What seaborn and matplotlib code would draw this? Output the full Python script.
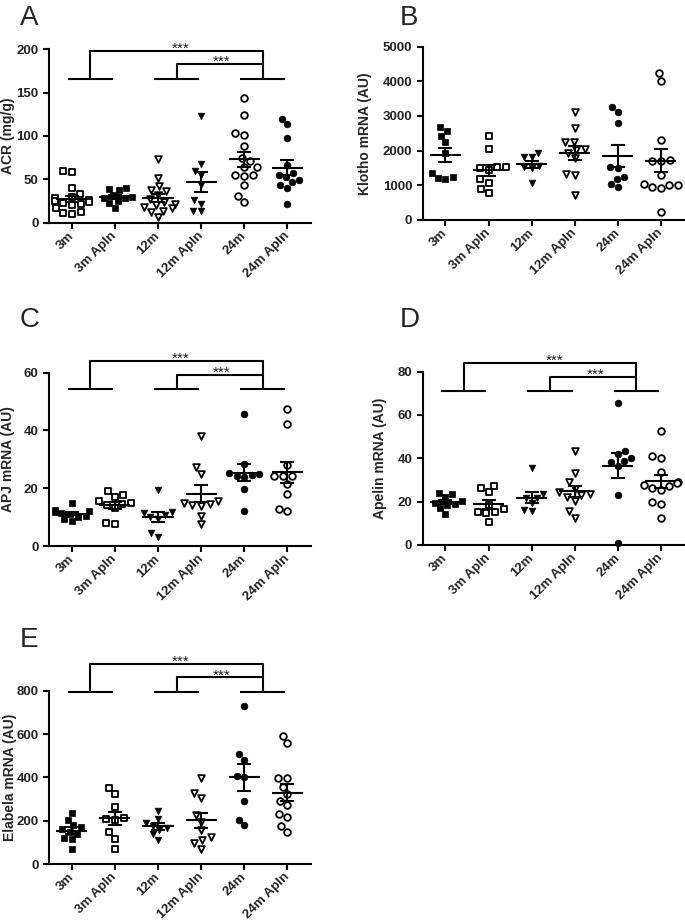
import numpy as np
import pandas as pd
import matplotlib
matplotlib.use('Agg')
import matplotlib.pyplot as plt
import seaborn as sns

groups = ['3m', '3m Apln', '12m', '12m Apln', '24m', '24m Apln']

# values, one list per group
acr = [
    [60, 58, 40, 33, 30, 28, 26, 25, 24, 23, 22, 20, 17, 12, 11, 10],
    [40, 39, 38, 32, 30, 29, 28, 25, 23, 17],
    [73, 52, 42, 38, 36, 32, 27, 24, 22, 20, 18, 17, 14, 12, 6],
    [123, 68, 60, 55, 43, 26, 22, 13, 13],
    [144, 124, 103, 101, 89, 75, 71, 64, 64, 55, 55, 54, 43, 31, 24],
    [120, 114, 98, 66, 57, 55, 53, 49, 47, 43, 40, 21],
]
klotho = [
    [2690, 2570, 2430, 2260, 1920, 1360, 1230, 1210, 1170],
    [2420, 2035, 1540, 1530, 1490, 1440, 1170, 1075, 900, 790],
    [1920, 1830, 1810, 1560, 1530, 1500, 1060],
    [3120, 2640, 2260, 2250, 2035, 2015, 1920, 1775, 1325, 1295, 720],
    [3245, 3120, 2785, 1535, 1505, 1250, 1170, 1040, 960],
    [4240, 4000, 2320, 1730, 1710, 1700, 1300, 1040, 1010, 1005, 960, 910, 220],
]
apj = [
    [15, 12.3, 12, 11.8, 11.5, 11, 10.5, 10, 9.3, 8.5],
    [19, 17.6, 17, 15.5, 15, 14.7, 14.1, 13, 7.8, 7.5],
    [19.5, 11.8, 11.3, 10.8, 10, 9.5, 4.5, 3.2],
    [38, 27.5, 25, 15.5, 15, 14.5, 14.2, 14, 10.5, 7.5],
    [45.7, 28.5, 25.2, 24.8, 24.5, 24.2, 23.8, 19.8, 12],
    [47.4, 42.2, 28.1, 24.4, 24.4, 24.2, 21.6, 18.1, 12.7, 12],
]
apelin = [
    [24, 23.5, 22, 20.5, 19.5, 19, 18.5, 17, 14.5],
    [27.4, 26.5, 24.3, 18.5, 16.5, 15.4, 15, 14.6, 10.8],
    [35.4, 23.4, 21.8, 21.5, 19.2, 16.2, 15.7],
    [43.4, 33, 28.9, 25.8, 24.3, 23.4, 23, 22.3, 20.3, 15.7, 12.6],
    [65.4, 43.4, 41.8, 40.3, 38.8, 38.5, 36.6, 23.1, 0.8],
    [52.6, 41, 40.3, 33.5, 29, 28.5, 27.7, 27, 26.2, 25.5, 19.7, 18.8, 12.6],
]
elabela = [
    [234, 205, 180, 170, 160, 150, 140, 120, 115, 70],
    [352, 322, 265, 211, 208, 203, 146, 115, 69],
    [245, 208, 188, 177, 165, 157, 137, 111],
    [398, 330, 305, 228, 195, 155, 125, 110, 95, 70],
    [731, 506, 480, 408, 403, 291, 203, 180],
    [592, 557, 398, 398, 357, 322, 291, 272, 229, 218, 177, 149],
]

markers = ['s', 's', 'v', 'v', 'o', 'o']
filled_a = [False, True, False, True, False, True]
filled_rest = [True, False, True, False, True, False]

sns.set_theme(style='ticks')
plt.rcParams['font.family'] = ['Liberation Sans', 'DejaVu Sans']

fig = plt.figure(figsize=(6.85, 9.22), dpi=100)


def draw_panel(rect, values, ylabel, yticks, filled, brackets, letter, letter_xy, label_x):
    ax = fig.add_axes(rect)
    df = pd.DataFrame({
        'group': np.repeat(groups, [len(v) for v in values]),
        'value': np.concatenate(values),
    })
    for i, g in enumerate(groups):
        sub = df[df['group'] == g]
        if filled[i]:
            kw = dict(color='black', edgecolor='black', linewidth=0.5)
        else:
            kw = dict(color='white', edgecolor='black', linewidth=1.3)
        sns.swarmplot(data=sub, x='group', y='value', order=groups,
                      marker=markers[i], size=4.8, ax=ax, **kw)
    for c in ax.collections:
        c.set_clip_on(False)

    # mean +/- SEM
    for i, v in enumerate(values):
        m = np.mean(v)
        s = np.std(v, ddof=1) / np.sqrt(len(v))
        ax.hlines(m, i - 0.36, i + 0.36, color='black', lw=1.5, zorder=5)
        ax.errorbar(i, m, yerr=s, fmt='none', ecolor='black', elinewidth=1.5,
                    capsize=5, capthick=1.5, zorder=5)

    if brackets is not None:
        base, top1, top2 = brackets
        lw = dict(color='black', lw=1.5, clip_on=False, solid_capstyle='butt')
        for i in (0, 2, 4):
            ax.plot([i - 0.1, i + 0.95], [base, base], **lw)
        c0, c2, c4 = 0.43, 2.43, 4.43
        ax.plot([c0, c0, c4, c4], [base, top1, top1, base], **lw)
        ax.plot([c2, c2, c4], [base, top2, top2], **lw)
        for xs, yt in (((c0 + c4) / 2 + 0.1, top1), ((c2 + c4) / 2 + 0.05, top2)):
            ax.annotate('***', (xs, yt), xytext=(0, -1.5), textcoords='offset points',
                        ha='center', va='baseline', fontsize=11, color='#222222',
                        annotation_clip=False)

    ax.set_xlim(-0.53, 5.55)
    ax.set_ylim(0, yticks[-1])
    ax.set_yticks(yticks)
    ax.set_yticklabels([str(t) for t in yticks], fontsize=9.5, fontweight='bold')
    ax.set_xticks(range(len(groups)))
    ax.set_xticklabels(groups, rotation=45, ha='right', va='center',
                       rotation_mode='anchor', fontsize=9.5, fontweight='bold')
    ax.set_xlabel('')
    ax.set_ylabel(ylabel, fontsize=10, fontweight='bold')
    ax.yaxis.set_label_coords(label_x, 0.5)
    sns.despine(ax=ax)
    for sp in ('left', 'bottom'):
        ax.spines[sp].set_linewidth(1.5)
        ax.spines[sp].set_color('black')
    ax.tick_params(axis='both', width=1.5, length=4.5, color='black',
                   labelcolor='#222222', pad=3)
    ax.tick_params(axis='x', pad=3.5)
    fig.text(letter_xy[0], letter_xy[1], letter, fontsize=20, va='baseline')
    return ax


W = 0.3825
H = 0.188
draw_panel([0.0715, 0.7585, W, H], acr, 'ACR (mg/g)', [0, 50, 100, 150, 200],
           filled_a, (166, 198, 183), 'A', (0.029, 0.973), -0.13)
draw_panel([0.617, 0.7614, W, H], klotho, 'Klotho mRNA (AU)',
           [0, 1000, 2000, 3000, 4000, 5000], filled_rest, None, 'B',
           (0.584, 0.973), -0.194)
draw_panel([0.0715, 0.4078, W, H], apj, 'APJ mRNA (AU)', [0, 20, 40, 60],
           filled_rest, (54.3, 64, 59.2), 'C', (0.029, 0.6453), -0.13)
draw_panel([0.617, 0.4089, W, H], apelin, 'Apelin mRNA (AU)', [0, 20, 40, 60, 80],
           filled_rest, (71.2, 84.1, 77.7), 'D', (0.584, 0.6453), -0.137)
draw_panel([0.0715, 0.0629, W, H], elabela, 'Elabela mRNA (AU)',
           [0, 200, 400, 600, 800], filled_rest, (795, 923, 861), 'E',
           (0.029, 0.2983), -0.122)

fig.savefig('out.png', dpi=100)
